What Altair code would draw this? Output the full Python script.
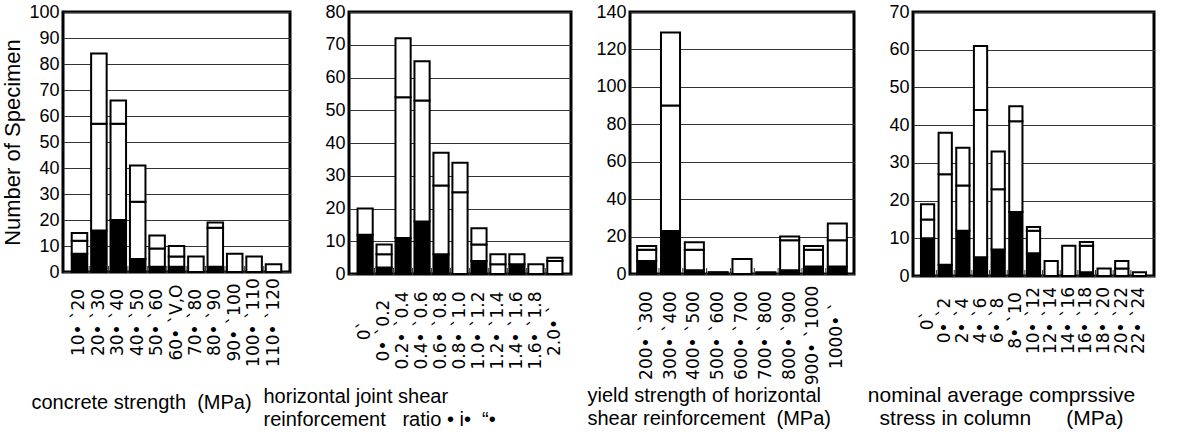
import altair as alt
import pandas as pd

FONT = "Liberation Sans"
LABEL_FONT = "DejaVu Sans"
NB = "\u00a0"

SEGMENTS = ["solid", "lower", "upper"]
SEG_FILL = ["black", "white", "white"]

# concrete strength (MPa)
p1_bins = ["10•`20", "20•`30", "30•`40", "40•`50", "50•`60", "60•`V,O",
           "70•`80", "80•`90", "90•`100", "100•`110", "110•`120"]
p1_solid = [7, 16, 20, 5, 2, 2, 0, 2, 0, 0, 0]
p1_lower = [5, 41, 37, 22, 7, 4, 6, 15, 7, 6, 3]
p1_upper = [3, 27, 9, 14, 5, 4, 0, 2, 0, 0, 0]

# horizontal joint shear reinforcement ratio
p2_bins = ["0`", "0•`0.2", "0.2•`0.4", "0.4•`0.6", "0.6•`0.8", "0.8•`1.0",
           "1.0•`1.2", "1.2•`1.4", "1.4•`1.6", "1.6•`1.8", "2.0•`"]
p2_solid = [12, 2, 11, 16, 6, 0, 4, 0, 3, 0, 0]
p2_lower = [8, 4, 43, 37, 21, 25, 5, 3, 3, 3, 4]
p2_upper = [0, 3, 18, 12, 10, 9, 5, 3, 0, 0, 1]

# yield strength of horizontal shear reinforcement (MPa)
p3_bins = ["200•`300", "300•`400", "400•`500", "500•`600", "600•`700",
           "700•`800", "800•`900", "900•`1000", "1000•`"]
p3_solid = [7, 23, 2, 0, 0, 0, 2, 4, 4]
p3_lower = [6, 67, 11, 1, 8, 1, 16, 9, 14]
p3_upper = [2, 39, 4, 0, 0, 0, 2, 2, 9]

# nominal average compressive stress in column (MPa)
p4_bins = ["0`", "0•`2", "2•`4", "4•`6", "6•`8", "8•`10", "10•`12",
           "12•`14", "14•`16", "16•`18", "18•`20", "20•`22", "22•`24"]
p4_solid = [10, 3, 12, 5, 7, 17, 6, 0, 0, 1, 0, 0, 0]
p4_lower = [5, 24, 12, 39, 16, 24, 6, 4, 8, 7, 2, 2, 1]
p4_upper = [4, 11, 10, 17, 10, 4, 1, 0, 0, 1, 0, 2, 0]


def spaced(label):
    # open a gap between the two halves of a bin label
    return label.replace("•`", "•" + NB + "`")


def panel(bins, solid, lower, upper, ymax, ystep, width, height,
          title_lines, title_size, title_x, title_y, label_offset,
          title_align="left", pad_inner=0.2, pad_outer=0.45, y_title=None):
    names = [spaced(b) for b in bins]
    rows = []
    for i, name in enumerate(names):
        for k, vals in enumerate((solid, lower, upper)):
            if vals[i] > 0:
                rows.append({"bin": name, "segment": SEGMENTS[k],
                             "rank": k, "count": vals[i]})
    df = pd.DataFrame(rows)

    xscale = alt.Scale(domain=names, paddingInner=pad_inner,
                       paddingOuter=pad_outer)
    xaxis = alt.Axis(
        title=title_lines, titleFont=FONT, titleFontSize=title_size,
        titleFontWeight="normal", titleColor="black", titleAlign=title_align,
        titleBaseline="alphabetic", titleAngle=0, titleX=title_x,
        titleY=title_y, titleLineHeight=23,
        labelAngle=-90, labelAlign="center", labelBaseline="middle",
        labelPadding=label_offset, labelFont=LABEL_FONT, labelFontSize=17,
        labelColor="black", labelOverlap=False, labelFlush=False,
        ticks=False, tickSize=0, domain=False, grid=False,
    )
    yaxis_kw = dict(
        values=list(range(0, ymax + 1, ystep)), labelFont=FONT,
        labelFontSize=18, labelColor="black", labelPadding=4,
        ticks=False, tickSize=0, domain=False, grid=True,
        gridColor="#333333", gridWidth=1, title=y_title,
    )
    if y_title:
        yaxis_kw.update(titleFont=FONT, titleFontSize=22,
                        titleFontWeight="normal", titleColor="black",
                        titlePadding=4)
    yaxis = alt.Axis(**yaxis_kw)

    bars = alt.Chart(df).mark_bar(stroke="black", strokeWidth=2).encode(
        x=alt.X("bin:N", scale=xscale, sort=names, axis=xaxis),
        y=alt.Y("sum(count):Q", stack="zero",
                scale=alt.Scale(domain=[0, ymax], nice=False), axis=yaxis),
        fill=alt.Fill("segment:N",
                      scale=alt.Scale(domain=SEGMENTS, range=SEG_FILL),
                      legend=None),
        order=alt.Order("rank:Q", sort="ascending"),
    )
    # short category separators standing on the baseline
    seps = alt.Chart(pd.DataFrame({"bin": names[1:]})).mark_rule(
        color="#333333", strokeWidth=1, xOffset=-2
    ).encode(
        x=alt.X("bin:N", scale=xscale, sort=names, axis=xaxis,
                bandPosition=0),
        y=alt.value(height),
        y2=alt.value(height - 6),
    )
    return alt.layer(bars, seps).properties(width=width, height=height)


p1 = panel(p1_bins, p1_solid, p1_lower, p1_upper, 100, 10, 227, 260,
           ["concrete strength" + NB * 2 + "(MPa)"], 20, -32, 136, 50,
           y_title="Number of Specimen")
p2 = panel(p2_bins, p2_solid, p2_lower, p2_upper, 80, 10, 222, 262,
           ["horizontal joint shear",
            "reinforcement" + NB * 3 + "ratio" + NB + "•" + NB + "i•"
            + NB * 2 + "“•"], 20, -86, 128, 56)
p3 = panel(p3_bins, p3_solid, p3_lower, p3_upper, 140, 20, 224, 262,
           ["yield strength of horizontal",
            "shear reinforcement" + NB * 2 + "(MPa)"], 20, -43, 127, 61,
           pad_outer=0.3)
p4 = panel(p4_bins, p4_solid, p4_lower, p4_upper, 70, 10, 241, 264,
           ["nominal average comprssive",
            "stress in column" + NB * 6 + "(MPa)"], 21, 88, 125, 44,
           title_align="center", pad_inner=0.25)

chart = alt.hconcat(p1, p2, p3, p4, spacing=59, bounds="flush").configure_view(
    stroke="black", strokeWidth=3
).properties(
    padding={"left": 0, "top": 1, "right": 0, "bottom": 0},
    background="white",
)

chart.save("out.html", embed_options={"renderer": "svg", "actions": False})
